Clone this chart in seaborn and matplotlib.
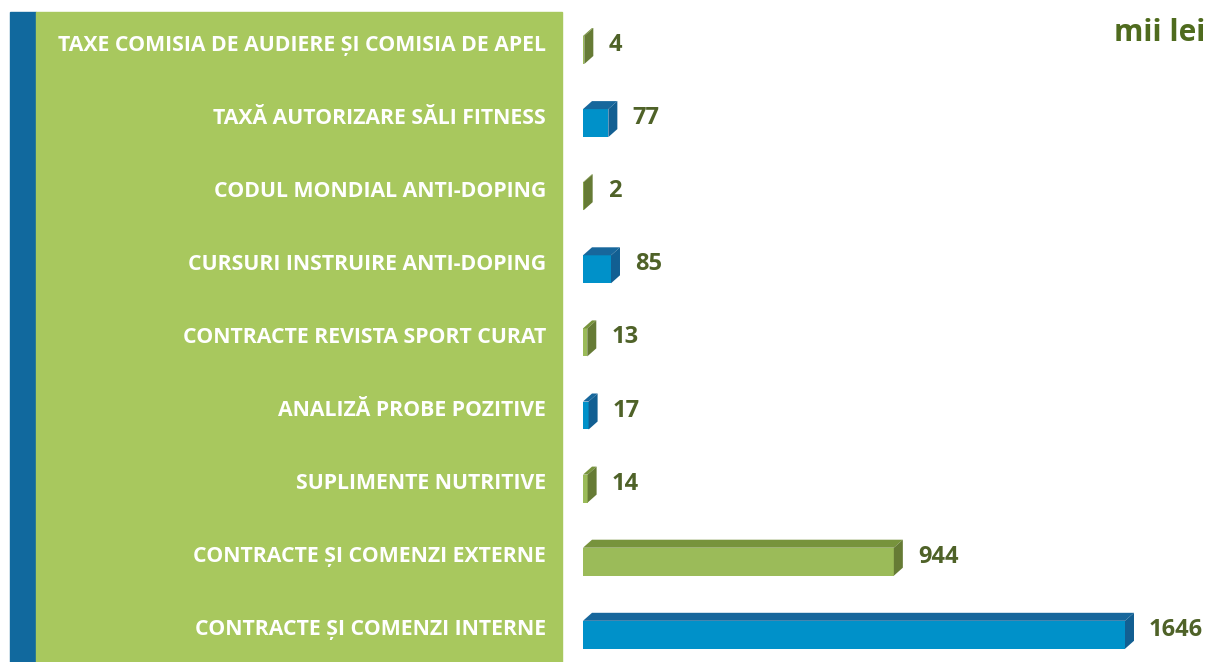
import matplotlib
matplotlib.use("Agg")
import matplotlib.pyplot as plt
from matplotlib.patches import Rectangle, Polygon
from matplotlib.transforms import blended_transform_factory
import seaborn as sns
import pandas as pd

# data (mii lei)
categories = [
    "TAXE COMISIA DE AUDIERE ȘI COMISIA DE APEL",
    "TAXĂ AUTORIZARE SĂLI FITNESS",
    "CODUL MONDIAL ANTI-DOPING",
    "CURSURI INSTRUIRE ANTI-DOPING",
    "CONTRACTE REVISTA SPORT CURAT",
    "ANALIZĂ PROBE POZITIVE",
    "SUPLIMENTE NUTRITIVE",
    "CONTRACTE ȘI COMENZI EXTERNE",
    "CONTRACTE ȘI COMENZI INTERNE",
]
values = [4, 77, 2, 85, 13, 17, 14, 944, 1646]
bar_kind = ["g", "b", "g", "b", "g", "b", "g", "g", "b"]

front = {"g": "#9BBB59", "b": "#0091C9"}
top = {"g": "#77933C", "b": "#17679C"}
side = {"g": "#667B35", "b": "#125F92"}

W, H = 1209, 662
fig = plt.figure(figsize=(W / 100, H / 100), dpi=100)
fig.patch.set_facecolor("white")

# left panel
fig.patches.append(Rectangle((10 / W, 0), 26 / W, (H - 12) / H,
                             transform=fig.transFigure, color="#11699E", zorder=-2))
fig.patches.append(Rectangle((36 / W, 0), 526 / W, (H - 12) / H,
                             transform=fig.transFigure, color="#A8C85E", zorder=-2))

# axes for bars
ax_l, ax_r = 583, 1209
row0, step = 50, 73.1
px_per_unit = 542 / 1646
ax = fig.add_axes([ax_l / W, 0, (ax_r - ax_l) / W, (H - 12) / H])
ax.patch.set_alpha(0)

df = pd.DataFrame({"cat": categories, "val": values})
palette = [front[k] for k in bar_kind]
sns.barplot(data=df, x="val", y="cat", hue="cat", palette=palette,
            legend=False, width=0.383, ax=ax, saturation=1, orient="h")

ax.set_xlim(0, (ax_r - ax_l) / px_per_unit)
ax.set_ylim((H - row0) / step, (12 - row0) / step)
ax.axis("off")

dx = 9 / px_per_unit
dy = 8 / step
for p, k in zip(ax.patches, bar_kind):
    x0, y0 = p.get_x(), p.get_y()
    w, h = p.get_width(), p.get_height()
    x1 = x0 + w
    ax.add_patch(Polygon([(x0, y0), (x1, y0), (x1 + dx, y0 - dy), (x0 + dx, y0 - dy)],
                         closed=True, color=top[k], lw=0))
    ax.add_patch(Polygon([(x1, y0), (x1, y0 + h), (x1 + dx, y0 + h - dy), (x1 + dx, y0 - dy)],
                         closed=True, color=side[k], lw=0))

lab_off = 5 / step
trans = blended_transform_factory(fig.transFigure, ax.transData)
for i, (c, v) in enumerate(zip(categories, values)):
    ax.text(546 / W, i - lab_off, c, transform=trans, ha="right", va="center",
            color="white", fontsize=15.3, fontweight="bold", family="Open Sans",
            clip_on=False)
    ax.text(v + 24 / px_per_unit, i - lab_off, str(v), ha="left", va="center",
            color="#4F6228", fontsize=17, fontweight="bold", family="Open Sans")

fig.text(1205 / W, 1 - 33 / H, "mii lei", ha="right", va="center",
         color="#4F6B1E", fontsize=21.5, fontweight="bold", family="Open Sans")

fig.savefig("out.png", dpi=100)
